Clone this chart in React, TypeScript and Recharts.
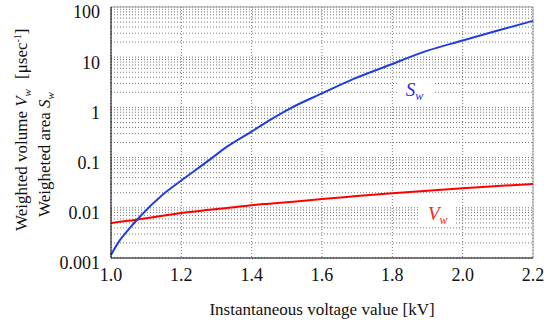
import React from 'react'
import { LineChart, Line, XAxis, YAxis, CartesianGrid, ReferenceLine, ReferenceDot } from 'recharts'

const voltages = [1.0, 1.02, 1.05, 1.08, 1.15, 1.2, 1.28, 1.33, 1.4, 1.45, 1.51, 1.6, 1.69, 1.79, 1.9, 2.0, 2.1, 2.2]
const areaSw = [0.00115, 0.002, 0.0037, 0.0064, 0.019, 0.035, 0.09, 0.165, 0.33, 0.55, 0.96, 1.9, 3.7, 6.9, 13.5, 21.5, 34, 53]
const volumeVw = [0.005, 0.0052, 0.0055, 0.0059, 0.007, 0.0079, 0.0091, 0.0099, 0.0113, 0.0121, 0.0131, 0.015, 0.0169, 0.0192, 0.0219, 0.0245, 0.0271, 0.0298]

const xTicks = [1.0, 1.2, 1.4, 1.6, 1.8, 2.0, 2.2]
const decades = [0.001, 0.01, 0.1, 1, 10, 100]
const minorFactors = [2, 3, 4, 5, 6, 7, 8, 9]

const yTicks: number[] = []
decades.forEach((d, i) => {
  yTicks.push(d)
  if (i < decades.length - 1) minorFactors.forEach(f => yTicks.push(+(d * f).toPrecision(3)))
})

const data = voltages.map((v, i) => ({ v, Sw: areaSw[i], Vw: volumeVw[i] }))

const font = 'Liberation Serif'

const seriesLabel = (name: string, color: string) => (props: any) => {
  const { viewBox } = props
  const cx = viewBox.x + viewBox.width / 2
  const cy = viewBox.y + viewBox.height / 2
  return (
    <g>
      <rect x={cx - 17} y={cy - 12} width={36} height={24} fill="#fff" />
      <text x={cx - 9} y={cy + 6} fontSize={19} fontStyle="italic" fill={color} fontFamily={font}>
        {name}
        <tspan fontSize={12} dy={4}>w</tspan>
      </text>
    </g>
  )
}

export default function App() {
  return (
    <div style={{ position: 'absolute', left: 0, top: 0, width: 558, height: 324, background: '#fff' }}>
      <LineChart width={558} height={324} data={data} margin={{ top: 7, right: 25, bottom: 0, left: 0 }}>
        <CartesianGrid stroke="#777" strokeDasharray="1 2" />
        <XAxis
          dataKey="v"
          type="number"
          domain={[1, 2.2]}
          ticks={xTicks}
          tickFormatter={(t: number) => t.toFixed(1)}
          height={66}
          axisLine={{ stroke: '#000' }}
          tickLine={false}
          tickSize={8}
          tickMargin={2}
          tick={{ fill: '#111', fontSize: 18, fontFamily: font }}
          label={{ value: 'Instantaneous voltage value [kV]', position: 'insideBottom', offset: 9, fill: '#111', fontSize: 17, fontFamily: font }}
        />
        <YAxis
          scale="log"
          domain={[0.001, 100]}
          ticks={yTicks}
          interval={0}
          allowDataOverflow
          tickFormatter={(t: number) => (decades.includes(t) ? String(t) : '')}
          width={111}
          axisLine={{ stroke: '#000' }}
          tickLine={false}
          tickSize={8}
          tickMargin={3}
          tick={{ fill: '#111', fontSize: 18, dy: 5, fontFamily: font }}
        />
        <ReferenceLine y={100} stroke="#999" />
        <ReferenceLine x={2.2} stroke="#999" />
        <Line type="monotone" dataKey="Vw" stroke="#ff0000" strokeWidth={2} dot={false} isAnimationActive={false} />
        <Line type="monotone" dataKey="Sw" stroke="#1f3fdc" strokeWidth={2} dot={false} isAnimationActive={false} />
        <ReferenceDot x={1.864} y={2.2} r={0} stroke="none" label={{ content: seriesLabel('S', '#2a2ae6') }} />
        <ReferenceDot x={1.927} y={0.0075} r={0} stroke="none" label={{ content: seriesLabel('V', '#ff2020') }} />
      </LineChart>
      <svg width={60} height={240} style={{ position: 'absolute', left: 0, top: 0 }}>
        <g fontSize={17} fill="#111" style={{ fontFamily: font }}>
          <text transform="translate(27,231) rotate(-90)">
            Weighted volume <tspan fontStyle="italic">V</tspan>
            <tspan fontStyle="italic" fontSize={11} dy={4}>w</tspan>
          </text>
          <text transform="translate(27,79) rotate(-90)">
            [μsec<tspan fontSize={10} dy={-6}>-1</tspan><tspan dy={6}>]</tspan>
          </text>
          <text transform="translate(50,217) rotate(-90)">
            Weigheted area <tspan fontStyle="italic">S</tspan>
            <tspan fontStyle="italic" fontSize={11} dy={4}>w</tspan>
          </text>
        </g>
      </svg>
    </div>
  )
}
